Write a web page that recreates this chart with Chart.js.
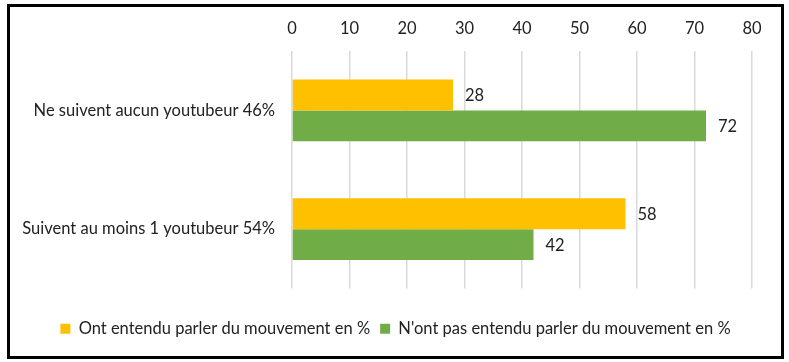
<!DOCTYPE html>
<html>
<head>
<meta charset="utf-8">
<script src="https://cdn.jsdelivr.net/npm/chart.js@4/dist/chart.umd.min.js"></script>
<style>
  html, body { margin: 0; padding: 0; background: #fff; }
  .frame {
    position: absolute; left: 7px; top: 4px;
    width: 771px; height: 349px;
    border: 3px solid #000; background: #fff;
  }
  canvas { display: block; }
</style>
</head>
<body>
<div class="frame"><canvas id="chart" width="771" height="349"></canvas></div>
<script>
const categories = ['Ne suivent aucun youtubeur 46%', 'Suivent au moins 1 youtubeur 54%'];
const seriesNames = ['Ont entendu parler du mouvement en %', "N'ont pas entendu parler du mouvement en %"];
const heardValues = [28, 58];
const notHeardValues = [72, 42];
const seriesColors = ['#FFC000', '#70AD47'];

const FONT = 'Lato, "Open Sans", sans-serif';
const SIZE = 16.5;

// etiquettes de valeur a droite des barres
const valueLabels = {
  id: 'valueLabels',
  afterDatasetsDraw(chart) {
    const ctx = chart.ctx;
    ctx.save();
    ctx.font = SIZE + 'px ' + FONT;
    ctx.fillStyle = '#222';
    ctx.textAlign = 'left';
    ctx.textBaseline = 'middle';
    chart.data.datasets.forEach((ds, i) => {
      chart.getDatasetMeta(i).data.forEach((bar, j) => {
        ctx.fillText(ds.data[j], bar.x + 12, bar.y + 1);
      });
    });
    ctx.restore();
  }
};

new Chart(document.getElementById('chart'), {
  type: 'bar',
  data: {
    labels: categories,
    datasets: [
      { label: seriesNames[0], data: heardValues, backgroundColor: seriesColors[0] },
      { label: seriesNames[1], data: notHeardValues, backgroundColor: seriesColors[1] }
    ]
  },
  options: {
    indexAxis: 'y',
    responsive: false,
    animation: false,
    categoryPercentage: 0.52,
    barPercentage: 1,
    layout: { padding: { top: 0, right: 0, bottom: 9, left: 0 } },
    plugins: {
      tooltip: { enabled: false },
      legend: {
        position: 'bottom',
        title: { display: true, text: '', font: { size: 10, lineHeight: 1 }, padding: { top: 12, bottom: 0 } },
        labels: {
          boxWidth: 10, boxHeight: 10, padding: 10,
          color: '#222',
          font: { family: FONT, size: SIZE }
        }
      }
    },
    scales: {
      x: {
        position: 'top',
        min: 0, max: 80,
        ticks: { stepSize: 10, color: '#222', padding: 12, font: { family: FONT, size: SIZE } },
        grid: { color: '#d9d9d9', lineWidth: 1.5, drawTicks: false },
        border: { display: false },
        afterFit: s => { s.height = 44; }
      },
      y: {
        ticks: { color: '#222', padding: 17, font: { family: FONT, size: SIZE } },
        grid: { display: false, drawTicks: false },
        border: { display: false },
        afterFit: s => { s.width = 282; }
      },
      // marge a droite du trace, sans rien afficher
      right: {
        type: 'category',
        position: 'right',
        ticks: { display: false },
        grid: { display: false, drawTicks: false },
        border: { display: false },
        afterFit: s => { s.width = 29; }
      }
    }
  },
  plugins: [valueLabels]
});
</script>
</body>
</html>
